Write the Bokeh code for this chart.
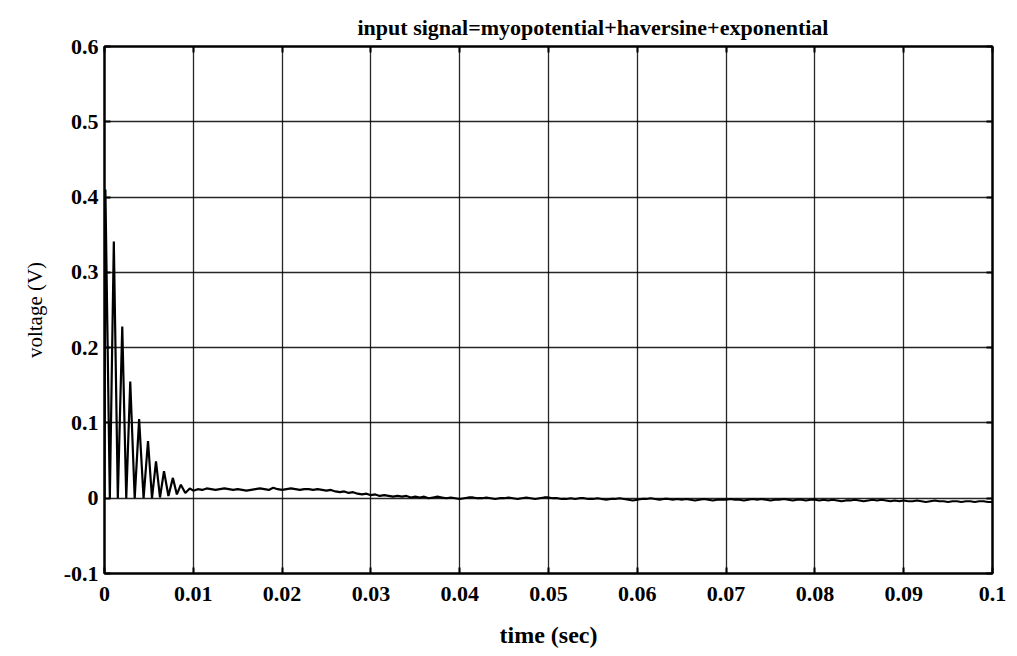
from bokeh.plotting import figure
from bokeh.models import Range1d, FixedTicker, LinearAxis
from bokeh.embed import file_html
from bokeh.resources import INLINE
import numpy as np

# Start-up burst: peaks decay towards the baseline, troughs sit near zero
burst_t = [0.0000, 0.0001, 0.0006, 0.00105, 0.0015, 0.0020, 0.00245, 0.0029,
           0.0034, 0.0039, 0.0044, 0.0049, 0.00535, 0.0058, 0.00625, 0.0067,
           0.0072, 0.0077, 0.00815, 0.0086, 0.0091, 0.0096]
burst_v = [0.000, 0.410, 0.000, 0.341, 0.000, 0.228, 0.000, 0.155,
           0.000, 0.105, 0.000, 0.076, 0.000, 0.049, 0.001, 0.036,
           0.003, 0.027, 0.005, 0.018, 0.007, 0.013]

# Slowly drifting tail, sampled every 0.5 ms from 0.010 s to 0.100 s
tail_start = 0.010
tail_step = 0.0005
tail_v = [
    0.010, 0.012, 0.011, 0.013, 0.012, 0.011, 0.012, 0.013, 0.012, 0.011,
    0.012, 0.011, 0.010, 0.011, 0.012, 0.013, 0.012, 0.011, 0.014, 0.012,
    0.011, 0.012, 0.013, 0.012, 0.011, 0.012, 0.012, 0.011, 0.012, 0.011,
    0.010, 0.011, 0.009, 0.008, 0.009, 0.007, 0.008, 0.006, 0.005, 0.006,
    0.004, 0.005, 0.003, 0.004, 0.003, 0.002, 0.003, 0.002, 0.003, 0.001,
    0.002, 0.001, 0.002, 0.000, 0.001, 0.002, 0.001, 0.000, 0.001, 0.000,
    -0.001, 0.000, 0.001, 0.001, 0.000, 0.000, 0.001, 0.000, -0.001, 0.000,
    0.000, 0.001, 0.000, -0.001, 0.000, 0.001, 0.000, -0.001, 0.000, 0.001,
    0.001, 0.000, 0.000, -0.001, -0.001, 0.000, -0.001, 0.000, 0.000, -0.001,
    -0.001, 0.000, -0.001, -0.002, -0.001, -0.001, 0.000, -0.001, -0.002, -0.003,
    -0.002, -0.001, -0.001, 0.000, -0.001, -0.002, -0.001, -0.001, -0.002, -0.001,
    -0.002, -0.001, -0.002, -0.003, -0.002, -0.001, -0.002, -0.003, -0.002, -0.002,
    -0.002, -0.001, -0.002, -0.002, -0.003, -0.002, -0.001, -0.002, -0.001, -0.002,
    -0.003, -0.002, -0.002, -0.001, -0.002, -0.003, -0.002, -0.002, -0.003, -0.002,
    -0.002, -0.003, -0.002, -0.003, -0.002, -0.003, -0.004, -0.003, -0.003, -0.002,
    -0.003, -0.004, -0.003, -0.002, -0.003, -0.002, -0.003, -0.004, -0.003, -0.004,
    -0.003, -0.004, -0.004, -0.003, -0.004, -0.005, -0.004, -0.003, -0.004, -0.004,
    -0.005, -0.004, -0.004, -0.005, -0.004, -0.004, -0.005, -0.004, -0.004, -0.005,
    -0.005,
]

x_ticks = [0.0, 0.01, 0.02, 0.03, 0.04, 0.05, 0.06, 0.07, 0.08, 0.09, 0.1]
x_labels = ["0", "0.01", "0.02", "0.03", "0.04", "0.05", "0.06", "0.07", "0.08", "0.09", "0.1"]
y_ticks = [-0.1, 0.0, 0.1, 0.2, 0.3, 0.4, 0.5, 0.6]
y_labels = ["-0.1", "0", "0.1", "0.2", "0.3", "0.4", "0.5", "0.6"]

tail_t = tail_start + tail_step * np.arange(len(tail_v))
t = list(burst_t) + list(tail_t)
v = list(burst_v) + list(tail_v)

FONT = "Liberation Serif"

p = figure(width=1017, height=656, output_backend="svg", toolbar_location=None,
           x_range=Range1d(0, 0.1), y_range=Range1d(-0.1, 0.6),
           title="input signal=myopotential+haversine+exponential")
p.min_border_left = 104
p.min_border_right = 25
p.min_border_top = 46
p.min_border_bottom = 83
p.outline_line_color = "black"
p.outline_line_width = 2
p.background_fill_color = "white"
p.border_fill_color = "white"

# heading sits a little right of the frame's centre
p.title.align = "left"
p.title.offset = 253
p.title.vertical_align = "top"
p.title.text_font = FONT
p.title.text_font_size = "22px"
p.title.text_font_style = "bold"
p.title.text_color = "black"
p.title.standoff = 10

for ax, ticks, labels in ((p.xaxis[0], x_ticks, x_labels), (p.yaxis[0], y_ticks, y_labels)):
    ax.ticker = FixedTicker(ticks=ticks)
    ax.major_label_overrides = {tk: lb for tk, lb in zip(ticks, labels)}
    ax.major_label_text_font = FONT
    ax.major_label_text_font_size = "22px"
    ax.major_label_text_font_style = "bold"
    ax.major_label_text_color = "black"
    ax.major_tick_in = 6
    ax.major_tick_out = 0
    ax.minor_tick_line_color = None
    ax.axis_line_width = 2
    ax.axis_line_color = "black"
    ax.major_tick_line_width = 2
    ax.axis_label_text_font = FONT
    ax.axis_label_text_color = "black"

p.xaxis.axis_label = "time (sec)"
p.xaxis.axis_label_text_font_size = "24px"
p.xaxis.axis_label_text_font_style = "bold"
p.xaxis.axis_label_standoff = 18
p.xaxis.major_label_standoff = 13

p.yaxis.axis_label = "voltage (V)"
p.yaxis.axis_label_text_font_size = "21px"
p.yaxis.axis_label_text_font_style = "normal"
p.yaxis.axis_label_standoff = 14
p.yaxis.major_label_standoff = 6

# unlabeled mirror axes with inward ticks
for side, ticks in (("above", x_ticks), ("right", y_ticks)):
    a = LinearAxis(ticker=FixedTicker(ticks=ticks), major_tick_in=6, major_tick_out=0,
                   minor_tick_line_color=None, major_label_text_alpha=0,
                   major_label_text_font_size="1px", major_label_standoff=0,
                   major_label_overrides={tk: "" for tk in ticks},
                   axis_line_width=2, major_tick_line_width=2)
    p.add_layout(a, side)

p.xgrid.ticker = FixedTicker(ticks=x_ticks)
p.ygrid.ticker = FixedTicker(ticks=y_ticks)
p.grid.grid_line_color = "black"
p.grid.grid_line_width = 1.3
p.grid.grid_line_alpha = 0.85

p.line(t, v, line_color="black", line_width=2.2)

open("out.html", "w").write(file_html(p, INLINE))
